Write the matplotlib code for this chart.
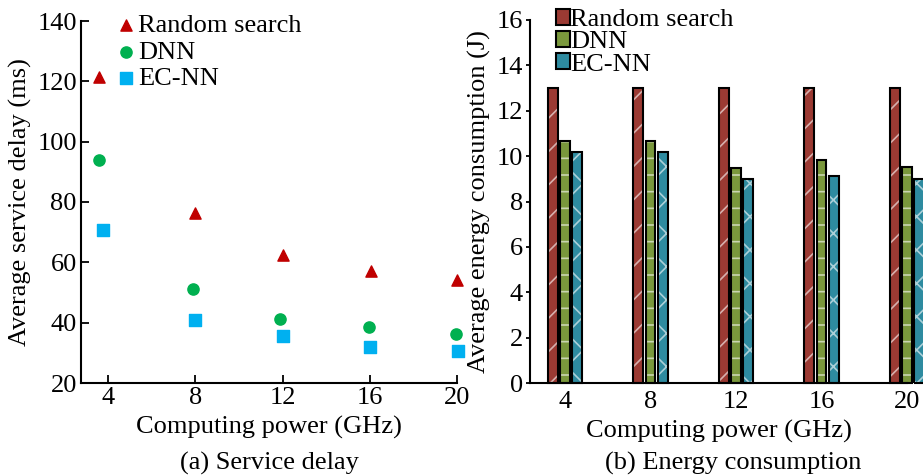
import matplotlib
matplotlib.use("Agg")
import matplotlib.pyplot as plt
import numpy as np
from matplotlib.patches import Patch

plt.rcParams['font.family'] = ['Liberation Serif', 'DejaVu Serif']
plt.rcParams['hatch.linewidth'] = 1.2

# ---- data ----
series = ["Random search", "DNN", "EC-NN"]
power_ticks = [4, 8, 12, 16, 20]

# (a) service delay (scatter; x positions slightly jittered as in the figure)
rs_x = [3.6, 8.0, 12.0, 16.05, 20.0]
rs_y = [121.5, 76.5, 62.5, 57.0, 54.0]
dnn_x = [3.57, 7.9, 11.87, 15.96, 19.97]
dnn_y = [94.0, 51.0, 41.2, 38.5, 36.3]
ec_x = [3.78, 8.0, 12.0, 16.0, 20.05]
ec_y = [70.8, 41.0, 35.7, 32.0, 30.7]

# (b) energy consumption
rs_e = [13.0, 13.0, 13.0, 13.0, 13.0]
dnn_e = [10.68, 10.68, 9.48, 9.85, 9.53]
ec_e = [10.18, 10.18, 8.97, 9.12, 8.97]

fig = plt.figure(figsize=(9.23, 4.75), dpi=100)
FS = 19

# ---------- left panel ----------
ax1 = fig.add_axes([81/923, 92/475, (457-81)/923, 362/475])
ax1.scatter(rs_x, rs_y, marker='^', s=65, color='#C00000', label=series[0], zorder=3, clip_on=False)
ax1.scatter(dnn_x, dnn_y, marker='o', s=65, color='#00B050', label=series[1], zorder=3, clip_on=False)
ax1.scatter(ec_x, ec_y, marker='s', s=65, color='#00B0F0', label=series[2], zorder=3, clip_on=False)
ax1.set_xlim(2.76, 20)
ax1.set_ylim(20, 140)
ax1.set_xticks(power_ticks)
ax1.set_yticks(np.arange(20, 141, 20))
for s in ['top', 'right']:
    ax1.spines[s].set_visible(False)
for s in ['left', 'bottom']:
    ax1.spines[s].set_linewidth(1.5)
ax1.tick_params(direction='in', length=6, width=1.3, labelsize=FS, pad=3)
ax1.set_xlabel("Computing power (GHz)", fontsize=FS, labelpad=5)
ax1.set_ylabel("Average service delay (ms)", fontsize=FS, labelpad=4)
ax1.legend(loc='upper left', bbox_to_anchor=(0.05, 1.05), frameon=False,
           fontsize=FS, handletextpad=-0.15, labelspacing=0.12,
           borderaxespad=0, handlelength=1.2, scatterpoints=1)
fig.text(269/923, 1 - 463/475, "(a) Service delay", fontsize=FS, ha='center', va='center')

# ---------- right panel ----------
ax2 = fig.add_axes([530/923, 92/475, (907-530)/923, 363/475])
x = np.array(power_ticks, dtype=float)
w = 0.46
off = 0.575
cols = ['#9B3A33', '#7A983C', '#2E8BA0']
hatches = ['/', '-', 'x']
hcol = (1, 1, 1, 0.6)
vals = [rs_e, dnn_e, ec_e]
for i in range(3):
    xs = x + (i - 1) * off
    ax2.bar(xs, vals[i], width=w, color=cols[i], edgecolor=hcol, linewidth=0,
            hatch=hatches[i], clip_on=False, zorder=2)
    ax2.bar(xs, vals[i], width=w, facecolor='none', edgecolor='black', linewidth=1.5,
            clip_on=False, zorder=3)
handles = [Patch(facecolor=cols[i], edgecolor='black', linewidth=1.5) for i in range(3)]
ax2.set_xlim(2.36, 20)
ax2.set_ylim(0, 16)
ax2.set_xticks(power_ticks)
ax2.set_yticks(np.arange(0, 17, 2))
for s in ['top', 'right']:
    ax2.spines[s].set_visible(False)
for s in ['left', 'bottom']:
    ax2.spines[s].set_linewidth(1.5)
ax2.tick_params(axis='y', direction='out', length=3, width=1.3, labelsize=FS, pad=2)
ax2.tick_params(axis='x', length=0, labelsize=FS, pad=6)
ax2.set_xlabel("Computing power (GHz)", fontsize=FS, labelpad=5)
ax2.set_ylabel("Average energy consumption (J)", fontsize=FS, labelpad=4)
ax2.legend(handles=handles, labels=series, loc='upper left', bbox_to_anchor=(0.04, 1.06),
           frameon=False, fontsize=FS, handletextpad=0.0, labelspacing=0.0,
           borderaxespad=0, handlelength=0.55, handleheight=0.55)
fig.text(733/923, 1 - 463/475, "(b) Energy consumption", fontsize=FS, ha='center', va='center')

fig.savefig("out.png", dpi=100)
